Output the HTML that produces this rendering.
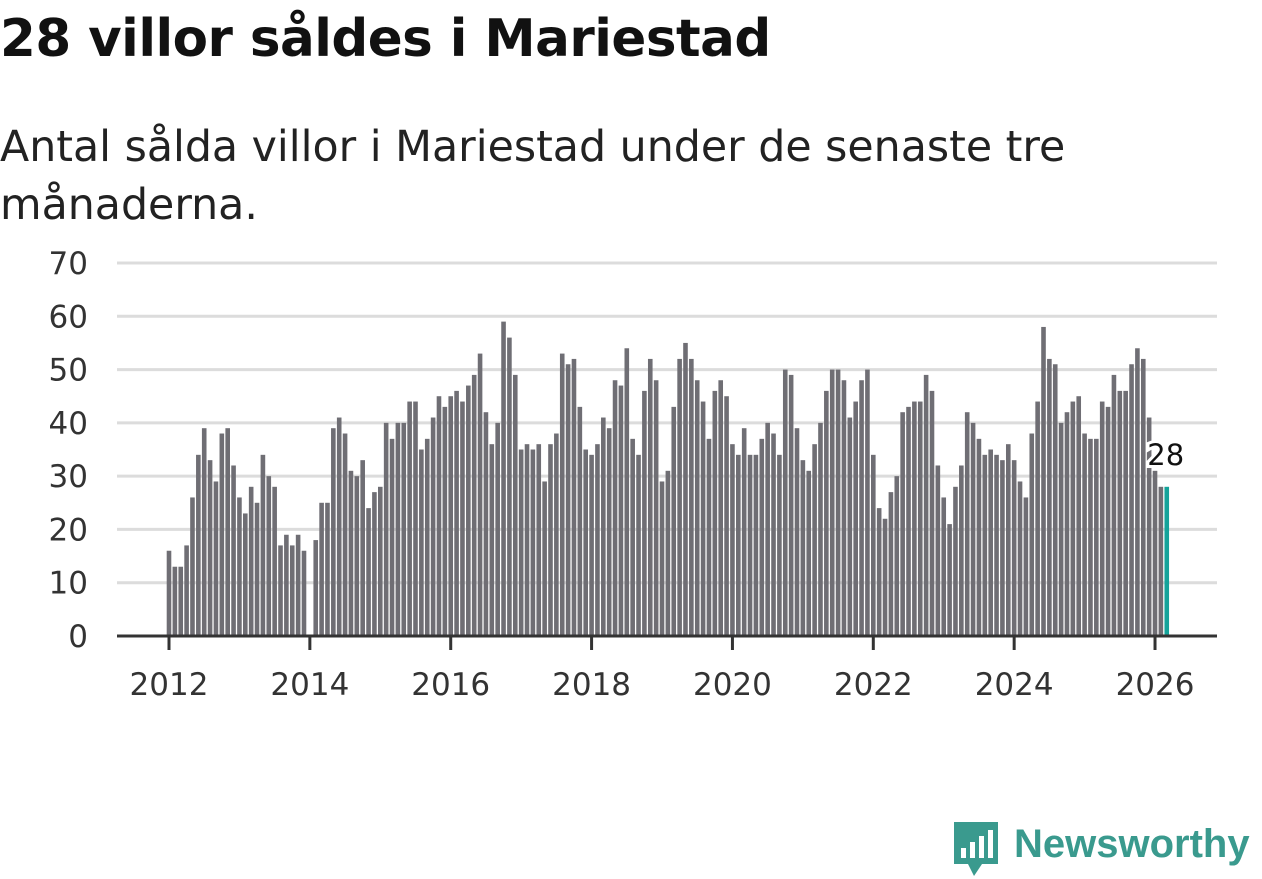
<!DOCTYPE html>
<html><head><meta charset="utf-8">
<style>
body{margin:0;width:1262px;height:879px;background:#fff;font-family:"DejaVu Sans","Liberation Sans",sans-serif;overflow:hidden;position:relative}
h1{position:absolute;left:0;top:9px;margin:0;font-size:51.5px;font-weight:bold;color:#111;letter-spacing:-0.5px}
.sub{position:absolute;left:0;top:118px;margin:0;font-size:42.7px;line-height:58px;color:#222;width:1100px}
svg{position:absolute;left:0;top:0}
</style></head><body>
<h1>28 villor såldes i Mariestad</h1>
<p class="sub">Antal sålda villor i Mariestad under de senaste tre månaderna.</p>
<svg id="chart" width="1262" height="879"></svg>
<script>
const years=[2012,2013,2014,2015,2016,2017,2018,2019,2020,2021,2022,2023,2024,2025,2026];
const yTicks=[0,10,20,30,40,50,60,70];
const xTickLabels=[2012,2014,2016,2018,2020,2022,2024,2026];
const values=[
16,13,13,17,26,34,39,33,29,38,39,32,
26,23,28,25,34,30,28,17,19,17,19,16,
0,18,25,25,39,41,38,31,30,33,24,27,
28,40,37,40,40,44,44,35,37,41,45,43,
45,46,44,47,49,53,42,36,40,59,56,49,
35,36,35,36,29,36,38,53,51,52,43,35,
34,36,41,39,48,47,54,37,34,46,52,48,
29,31,43,52,55,52,48,44,37,46,48,45,
36,34,39,34,34,37,40,38,34,50,49,39,
33,31,36,40,46,50,50,48,41,44,48,50,
34,24,22,27,30,42,43,44,44,49,46,32,
26,21,28,32,42,40,37,34,35,34,33,36,
33,29,26,38,44,58,52,51,40,42,44,45,
38,37,37,44,43,49,46,46,51,54,52,41,
31,28,28];
const NS="http://www.w3.org/2000/svg";
const svg=document.getElementById('chart');
const x0=169, perMonth=70.43/12;
function xScale(i){return x0+i*perMonth;}
function yScale(v){return 636-v*(373/70);}
function mk(t,a){const e=document.createElementNS(NS,t);for(const k in a)e.setAttribute(k,a[k]);svg.appendChild(e);return e;}
yTicks.forEach(t=>{
  const g=mk('line',{x1:117,x2:1217,y1:yScale(t),y2:yScale(t),stroke:'#dcdcdc','stroke-width':3});
  
  
  const l=mk('text',{x:88,y:yScale(t)+11,'text-anchor':'end','font-size':31,fill:'#333'});
  l.textContent=t;
  
  
});
values.forEach((v,i)=>{
  const last=i===values.length-1;
  const r=mk('rect',{x:xScale(i)-2.3,y:yScale(v),width:4.6,height:yScale(0)-yScale(v),fill:last?'#14a39a':'#6f6e74'});
  
  
});
const ax=mk('line',{x1:117,x2:1217,y1:636,y2:636,stroke:'#333','stroke-width':3});


xTickLabels.forEach(yr=>{
  const xi=xScale((yr-years[0])*12);
  const tk=mk('line',{x1:xi,x2:xi,y1:636,y2:650,stroke:'#333','stroke-width':3});
  
  
  const t=mk('text',{x:xi,y:695,'text-anchor':'middle','font-size':31,fill:'#333'});
  t.textContent=yr;
  
  
});
const li=values.length-1;
const lab=mk('text',{x:xScale(li)-1,y:yScale(values[li])-22,'text-anchor':'middle','font-size':29,fill:'#111',stroke:'#fff','stroke-width':6,'paint-order':'stroke'});
lab.textContent=values[li];


</script>
<div style="position:absolute;left:952px;top:820px;height:58px;display:flex;align-items:flex-start;font-family:'Liberation Sans',sans-serif">
  <svg width="48" height="58" style="position:relative">
    <path d="M2 2 H46 V44 H30 L22 56 L16 44 H2 Z" fill="#3a9a8e"/>
    <rect x="9" y="28" width="5" height="10" fill="#fff"/><rect x="18" y="22" width="5" height="16" fill="#fff"/><rect x="27" y="16" width="5" height="22" fill="#fff"/><rect x="36" y="10" width="5" height="28" fill="#fff"/>
  </svg>
  <span style="font-size:40px;font-weight:bold;color:#3a9a8e;margin-left:14px;line-height:48px">Newsworthy</span>
</div>
</body></html>
